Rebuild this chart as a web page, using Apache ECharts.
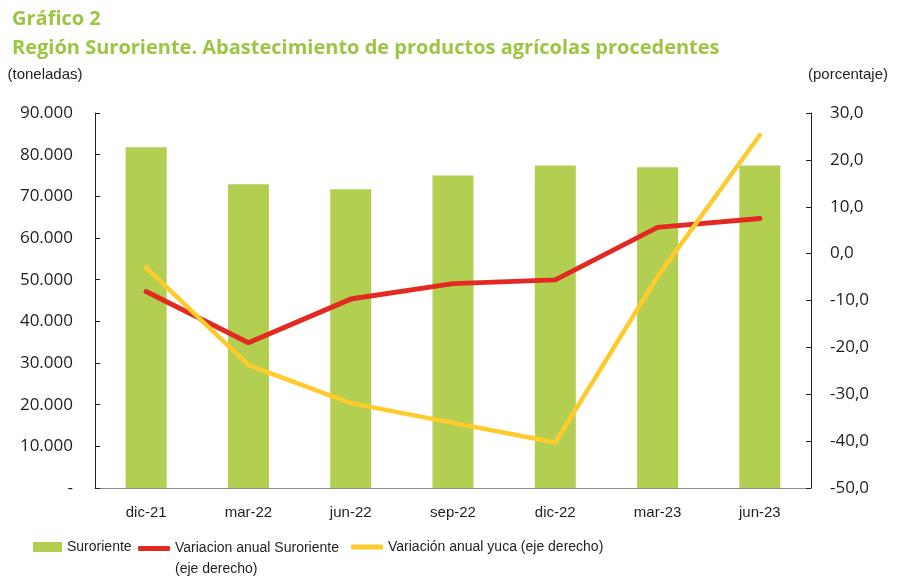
<!DOCTYPE html>
<html>
<head>
<meta charset="utf-8">
<script src="https://cdn.jsdelivr.net/npm/echarts@6/dist/echarts.min.js"></script>
<style>
  html, body { margin: 0; padding: 0; background: #fff; }
  #chart { width: 900px; height: 579px; }
</style>
</head>
<body>
<div id="chart"></div>
<script>
var categories = ['dic-21', 'mar-22', 'jun-22', 'sep-22', 'dic-22', 'mar-23', 'jun-23']
var suroriente = [81800, 72900, 71700, 75000, 77400, 77000, 77400]
var varSuroriente = [-8.1, -19.0, -9.7, -6.4, -5.6, 5.6, 7.5]
var varYuca = [-3.0, -23.8, -31.9, -36.1, -40.3, -4.9, 25.3]

var names = ['Suroriente', 'Variacion anual Suroriente\n(eje derecho)', 'Variación anual yuca (eje derecho)']
var sans = '"Liberation Sans", Arial, sans-serif'
var textColor = '#1f1f1f'

function toneladas (v) {
  if (v === 0) return '-'
  return String(v).replace(/\B(?=(\d{3})+(?!\d))/g, '.')
}
function porcentaje (v) {
  return v.toFixed(1).replace('.', ',')
}

var chart = echarts.init(document.getElementById('chart'))
var option = {
  animation: false,
  title: {
    text: 'Gráfico 2\nRegión Suroriente. Abastecimiento de productos agrícolas procedentes',
    left: 7,
    top: 0,
    textStyle: {
      color: '#9DC544',
      fontSize: 20,
      fontWeight: 'bold',
      fontFamily: '"Open Sans", sans-serif',
      lineHeight: 29
    }
  },
  legend: [
    {
      data: [names[0]],
      left: 28,
      top: 535,
      icon: 'rect',
      itemWidth: 29,
      itemHeight: 10,
      itemGap: 4,
      textStyle: { color: textColor, fontSize: 14, fontFamily: sans }
    },
    {
      data: [names[1]],
      left: 133,
      top: 512,
      icon: 'roundRect',
      itemWidth: 32,
      itemHeight: 5,
      itemGap: 4,
      formatter: function (name) { return ' \n' + name },
      textStyle: { color: textColor, fontSize: 14, fontFamily: sans, lineHeight: 21 }
    },
    {
      data: [names[2]],
      left: 346,
      top: 535,
      icon: 'roundRect',
      itemWidth: 32,
      itemHeight: 5,
      itemGap: 4,
      textStyle: { color: textColor, fontSize: 14, fontFamily: sans }
    }
  ],
  grid: { left: 95, right: 89, top: 113, bottom: 91 },
  xAxis: {
    type: 'category',
    data: categories,
    axisLine: { lineStyle: { color: '#8c8c8c', width: 1 } },
    axisTick: { show: false },
    axisLabel: { color: textColor, fontSize: 15, fontFamily: sans, margin: 17 }
  },
  yAxis: [
    {
      type: 'value',
      min: 0,
      max: 90000,
      interval: 10000,
      name: '(toneladas)',
      nameLocation: 'end',
      nameGap: 31,
      nameTextStyle: { color: textColor, fontSize: 15, fontFamily: sans, align: 'center', padding: [0, 100, 0, 0] },
      axisLine: { show: true, lineStyle: { color: '#222', width: 1 } },
      axisTick: { show: true, inside: true, length: 5, lineStyle: { color: '#222' } },
      splitLine: { show: false },
      axisLabel: { color: textColor, fontSize: 17, fontFamily: '"Open Sans", sans-serif', margin: 22, formatter: toneladas }
    },
    {
      type: 'value',
      min: -50,
      max: 30,
      interval: 10,
      name: '(porcentaje)',
      nameLocation: 'end',
      nameGap: 31,
      nameTextStyle: { color: textColor, fontSize: 15, fontFamily: sans, align: 'center', padding: [0, 0, 0, 74] },
      axisLine: { show: true, lineStyle: { color: '#222', width: 1 } },
      axisTick: { show: true, inside: true, length: 5, lineStyle: { color: '#222' } },
      splitLine: { show: false },
      axisLabel: { color: textColor, fontSize: 17, fontFamily: '"Open Sans", sans-serif', margin: 19, formatter: porcentaje }
    }
  ],
  series: [
    {
      name: names[0],
      type: 'bar',
      data: suroriente,
      barWidth: 41,
      itemStyle: { color: '#B3CF52' }
    },
    {
      name: names[1],
      type: 'line',
      yAxisIndex: 1,
      data: varSuroriente,
      symbol: 'none',
      lineStyle: { color: '#E22A22', width: 5, cap: 'round' },
      itemStyle: { color: '#E22A22' }
    },
    {
      name: names[2],
      type: 'line',
      yAxisIndex: 1,
      data: varYuca,
      symbol: 'none',
      lineStyle: { color: '#FFCA2C', width: 4.5, cap: 'round' },
      itemStyle: { color: '#FFCA2C' }
    }
  ]
}
chart.setOption(option)
</script>
</body>
</html>
